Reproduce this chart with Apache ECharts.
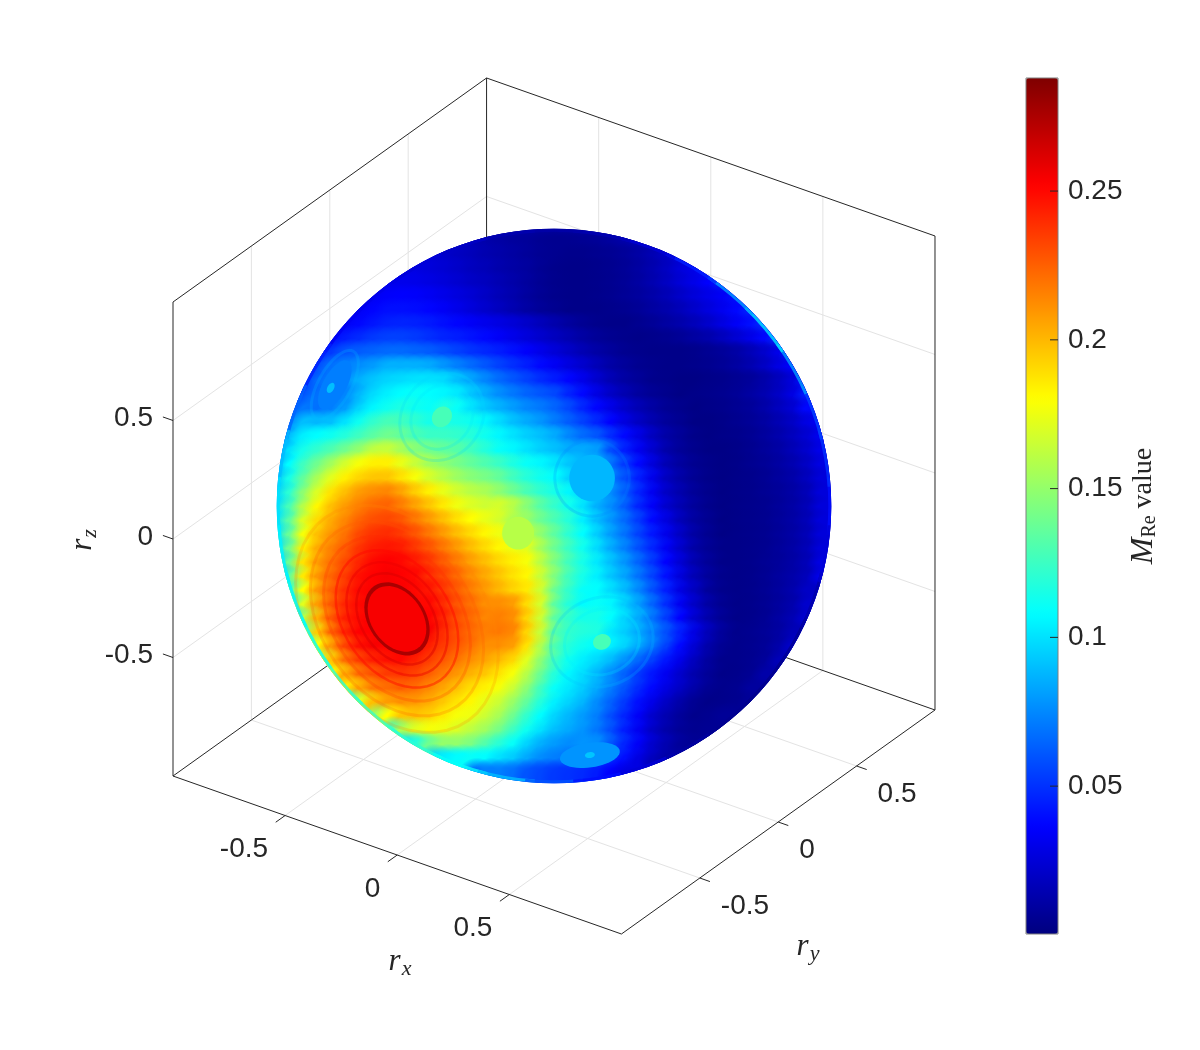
<!DOCTYPE html>
<html><head><meta charset="utf-8">
<style>html,body{margin:0;padding:0;background:#fff}#c{width:1200px;height:1050px}</style>
<script src="https://cdn.jsdelivr.net/npm/echarts@6/dist/echarts.min.js"></script>
</head><body><div id="c"></div>
<script>
// M_Re value (thousandths), one row per view-plane line, top to bottom, each row centred on the sphere.
const sphereRows = [
[22,18,15,13,12,11,11,12,14,16,20,26],
[26,22,19,16,13,11,9,8,6,5,5,6,7,9,12,16,22,30],
[30,27,24,22,19,17,14,12,10,8,6,5,4,4,5,6,8,11,15,20,28,36],
[30,30,28,26,24,21,18,16,13,11,9,6,4,3,3,4,5,7,10,14,19,26,30,40],
[30,31,31,30,28,26,23,20,18,15,12,9,6,4,3,3,4,5,7,10,14,19,25,30,36,44],
[28,30,33,35,36,35,33,30,27,24,20,16,13,9,6,4,3,3,4,5,7,9,12,16,21,26,30,34,40,44],
[30,34,37,40,40,39,37,34,30,26,22,18,14,10,7,5,3,3,3,4,5,7,10,13,17,22,27,32,38,46],
[30,34,38,42,45,46,45,43,40,37,34,31,28,25,21,17,13,9,6,4,3,3,5,7,10,13,17,22,28,34,40,48],
[32,38,44,48,52,54,54,52,49,46,44,41,38,34,30,26,22,18,14,10,7,5,4,3,4,5,7,10,13,18,24,30,38,48],
[30,42,52,60,62,64,66,66,64,62,58,54,50,47,44,40,35,30,25,20,15,11,8,5,4,3,3,3,4,6,8,11,16,22,30,44],
[40,58,68,72,76,80,86,86,86,84,78,72,66,60,54,49,44,38,33,27,22,16,11,8,5,4,3,3,4,5,7,10,14,20,28,36],
[36,52,66,72,76,86,92,96,98,100,100,98,90,82,74,66,60,54,48,43,37,30,22,15,10,7,4,3,2,2,3,4,6,8,12,18,26,42],
[46,60,68,70,74,88,98,104,108,110,108,106,102,92,84,76,70,64,60,56,46,38,28,20,14,9,6,4,2,3,4,5,7,10,14,20,28,44],
[56,70,68,72,80,96,106,112,116,112,110,116,110,100,92,86,80,74,70,64,56,46,37,29,21,15,10,6,4,2,3,4,6,8,12,18,24,38],
[48,74,90,88,90,100,112,122,128,126,120,114,116,114,112,106,98,90,84,78,70,62,54,46,36,27,19,13,8,5,2,2,3,5,7,10,15,20,28,34],
[60,90,104,108,112,118,126,134,140,136,128,124,124,122,118,112,106,100,94,90,84,74,66,60,48,38,28,18,11,7,3,2,3,4,6,9,13,18,24,32],
[72,100,114,122,130,140,150,162,164,155,146,140,136,132,126,118,110,106,100,94,90,84,84,80,58,44,32,22,12,7,4,2,2,3,5,8,11,16,22,30],
[82,108,126,140,154,168,178,184,184,174,164,154,148,142,136,130,124,116,110,106,100,92,86,84,68,52,38,26,15,9,5,3,2,3,5,7,10,14,20,28],
[88,114,136,156,172,184,192,196,196,188,178,168,160,152,146,142,136,126,118,112,108,96,86,84,72,58,44,30,18,11,6,3,2,3,4,6,9,12,18,26],
[94,120,148,170,188,198,208,212,214,206,194,184,174,166,160,156,148,138,128,120,114,106,96,84,76,62,46,32,20,13,7,4,2,3,4,6,8,11,16,26],
[98,128,160,182,198,208,216,222,224,216,206,196,186,176,170,166,168,160,146,132,122,112,100,86,76,62,46,34,22,14,8,4,2,3,4,5,8,11,16,26],
[100,134,170,190,204,214,224,230,232,228,218,208,198,188,180,174,168,156,150,138,128,118,104,90,78,66,52,38,27,16,9,5,2,3,4,5,8,11,16,26],
[100,138,178,198,210,220,232,238,240,236,228,218,208,198,190,182,176,164,160,148,134,120,108,94,80,68,54,42,30,19,10,5,2,3,4,5,8,11,16,26],
[98,140,184,204,216,226,238,244,246,244,236,228,218,208,198,190,182,176,172,154,138,124,112,98,84,72,58,46,33,21,11,6,3,3,4,5,8,11,16,26],
[94,140,188,208,220,232,242,250,252,250,244,236,226,216,206,198,190,184,178,160,142,126,114,102,90,78,64,50,36,24,13,7,3,3,4,6,8,11,16,28],
[88,136,186,210,224,236,248,252,254,252,250,240,232,222,212,204,196,188,182,164,144,126,114,104,92,82,68,54,40,26,15,8,4,3,4,6,9,12,17,30],
[126,180,210,226,240,250,253,254,253,250,246,236,226,216,208,200,192,186,166,138,122,110,108,98,88,74,58,44,28,18,8,4,3,4,6,9,13,20],
[114,172,208,228,242,250,253,254,254,250,250,240,228,220,212,212,208,190,168,134,118,108,110,106,94,80,64,48,32,20,10,5,3,4,6,9,13,22],
[100,160,202,228,244,250,254,254,254,252,252,242,230,222,214,216,212,192,166,134,122,114,114,108,96,84,68,52,36,22,12,6,3,4,6,10,15,24],
[150,194,224,242,252,252,254,254,250,254,240,230,222,216,218,214,192,164,132,122,118,116,102,94,84,72,58,44,28,16,8,4,5,7,10,16],
[140,180,210,234,248,254,252,252,256,244,236,228,220,212,212,208,188,158,130,118,112,108,104,96,84,70,54,38,24,12,6,4,5,7,12,22],
[164,196,222,236,244,248,250,244,236,228,220,212,206,200,192,172,148,126,112,104,98,90,78,66,54,42,30,18,9,4,4,5,8,16],
[178,204,222,230,236,238,234,226,218,210,202,196,188,178,160,138,118,106,98,88,76,64,52,42,32,22,13,7,3,4,6,12],
[184,204,218,222,226,222,214,206,198,190,184,178,166,148,126,110,102,94,84,72,60,48,38,28,20,12,6,4,5,9],
[130,172,198,208,212,210,204,196,188,182,174,166,152,136,118,104,96,88,76,64,52,40,30,20,12,6,3,4,5,8],
[152,180,196,198,194,186,178,176,166,156,140,122,108,96,88,80,72,58,46,34,22,14,8,4,5,7],
[120,156,172,178,176,170,162,154,142,126,112,100,90,84,78,70,58,44,32,20,12,7,5,6],
[100,118,140,150,150,144,132,120,110,96,86,80,76,78,76,60,46,34,22,14,8,6],
[96,104,108,110,108,100,94,84,76,72,70,66,60,52,40,28,18,11],
[68,72,72,68,60,56,52,50,48,44,36,28]
];
// M_Re along the limb, read every 10 degrees counter-clockwise from the right-hand side
const rimValues = [40,50,55,80,100,80,45,25,15,12,14,20,25,30,32,45,65,90,100,105,105,110,120,125,120,110,90,60,40,25,10,5,4,6,12,25];
// terraces and local plateaus: centre, major semi-axis, minor/major ratio, tilt, value, 0 filled / 1 ring / 2 faint ring
const contourU     = [-.573,-.573,-.573,-.573,-.573,-.573,-.573,-.573, -.409,-.409,-.409, -.8,-.8,-.815, .139,.139, -.131, .175,.175,.175, .131,.131];
const contourV     = [-.412,-.412,-.412,-.412,-.412,-.412,-.412,-.412, .325,.325,.325, .442,.442,.431, .102,.102, -.099, -.496,-.496,-.496, -.909,-.909];
const contourMajor = [.453,.387,.328,.274,.226,.182,.146,.131, .168,.124,.04, .14,.1,.02, .139,.085, .06, .19,.139,.033, .11,.018];
const contourRatio = [.71,.71,.71,.71,.71,.71,.71,.71, .86,.86,.86, .43,.43,.6, .98,.98, .97, .85,.85,.85, .41,.6];
const contourTilt  = [35,35,35,35,35,35,35,35, -38,-38,-38, -29,-29,-29, 0,0, 0, -71,-71,-71, -82,-82];
const contourValue = [215,228,240,250,258,264,276,254, 96,100,128, 90,72,90, 74,88, 160, 90,104,128, 78,92];
const contourKind  = [2,2,2,1,1,1,0,0, 2,2,0, 2,0,0, 2,0, 0, 2,2,0, 0,0];

const axisTickValues = [-0.5, 0, 0.5];
const colorbarTicks = [0.05, 0.1, 0.15, 0.2, 0.25];
const colorbarRange = [0.0003, 0.288];
const jetColors = ['#00007f','#0000ff','#007fff','#00ffff','#7fff7f','#ffff00','#ff7f00','#ff0000','#7f0000'];

// orthographic view of the axes box
const viewU = [0.8183, 0.5722, 0];
const viewV = [-0.2883, 0.4088, 0.865];
const project = (x,y,z) => [viewU[0]*x+viewU[1]*y+viewU[2]*z, viewV[0]*x+viewV[1]*y+viewV[2]*z];
const CELL = 0.051, RADIUS = 1.012;

const sphereData = [];
sphereRows.forEach((row,i)=>{
  row.forEach((v,j)=>{
    const u = (j - (row.length-1)/2)*CELL;
    const w = ((sphereRows.length-1)/2 - i)*CELL;
    sphereData.push([u,w,v/1000]);
  });
});
const rimData = rimValues.map((v,i)=>[RADIUS*Math.cos(i*Math.PI/18),RADIUS*Math.sin(i*Math.PI/18),v/1000,i*10]);
const contourData = contourU.map((u,i)=>[u,contourV[i],contourValue[i]/1000,contourMajor[i],contourRatio[i],contourTilt[i],contourKind[i]]);

function segs(list){ const out=[]; list.forEach(p=>{ p.forEach(q=>out.push(project(...q))); out.push([null,null]); }); return out; }
const gridSegs=[], boxSegs=[];
axisTickValues.forEach(t=>{
  gridSegs.push([[t,-1,-1],[t,1,-1],[t,1,1]]);
  gridSegs.push([[1,t,-1],[-1,t,-1],[-1,t,1]]);
  gridSegs.push([[-1,-1,t],[-1,1,t],[1,1,t]]);
  boxSegs.push([[t,-1,-1],[t,-1.06,-1]]);
  boxSegs.push([[1,t,-1],[1.045,t,-1]]);
  boxSegs.push([[-1,-1,t],[-1.045,-1,t]]);
});
boxSegs.push([[-1,-1,-1],[-1,-1,1],[-1,1,1],[1,1,1],[1,1,-1],[1,-1,-1],[-1,-1,-1],[-1,1,-1],[1,1,-1]]);
boxSegs.push([[-1,1,-1],[-1,1,1]]);

const tickFont = {fontFamily:'"Liberation Sans",Arial,sans-serif',fontSize:28,color:'#262626'};
function tickLabels(pts,align,offset){
  return {type:'scatter',xAxisIndex:0,yAxisIndex:0,symbolSize:0,silent:true,z:6,itemStyle:{opacity:1},
    data:axisTickValues.map(t=>({value:pts(t),name:String(t)})),
    label:{show:true,opacity:1,position:'inside',align,verticalAlign:'middle',offset,formatter:'{b}',...tickFont}};
}
const serif='"Liberation Serif",serif';
const mathRich = {
  i:{fontFamily:serif,fontStyle:'italic',fontSize:31,color:'#262626'},
  s:{fontFamily:serif,fontStyle:'italic',fontSize:22,color:'#262626',padding:[14,0,0,1]},
  m:{fontFamily:serif,fontStyle:'italic',fontSize:32,color:'#262626'},
  r:{fontFamily:serif,fontSize:20,color:'#262626',padding:[12,0,0,0]},
  n:{fontFamily:serif,fontSize:28,color:'#262626'}
};
function axisName(p,text,rotate){
  return {type:'scatter',xAxisIndex:0,yAxisIndex:0,symbolSize:0,silent:true,z:6,itemStyle:{opacity:1},data:[{value:p}],
    label:{show:true,opacity:1,position:'inside',align:'center',verticalAlign:'middle',rotate:rotate||0,formatter:text,rich:mathRich}};
}
function discClip(api){
  const c=api.coord([0,0]);
  return {type:'circle',shape:{cx:c[0],cy:c[1],r:api.size([RADIUS,0])[0]}};
}

const option = {
  animation:false,backgroundColor:'#fff',
  grid:[
    {left:6,top:12.8,width:1164.5,height:986.4,show:false},
    {left:1026,top:78,width:32,height:856,show:true,backgroundColor:'transparent',borderColor:'#7f7f7f',borderWidth:1,z:10}
  ],
  xAxis:[
    {type:'value',gridIndex:0,min:-2,max:2.25,show:false},
    {type:'value',gridIndex:1,min:0,max:1,show:false}
  ],
  yAxis:[
    {type:'value',gridIndex:0,min:-1.8,max:1.8,show:false},
    {type:'value',gridIndex:1,min:colorbarRange[0],max:colorbarRange[1],position:'right',z:11,
      axisLine:{show:false},splitLine:{show:false},axisTick:{show:false},
      axisLabel:{show:true,margin:10,customValues:colorbarTicks,formatter:v=>String(v),...tickFont}}
  ],
  visualMap:{type:'continuous',seriesIndex:[5,6,7],dimension:2,min:colorbarRange[0],max:colorbarRange[1],
    left:1026,top:78,itemWidth:32,itemHeight:856,padding:0,calculable:false,realtime:false,text:null,
    hoverLink:false,inRange:{color:jetColors}},
  series:[
    {type:'line',xAxisIndex:0,yAxisIndex:0,symbol:'none',silent:true,z:1,connectNulls:false,
      lineStyle:{color:'#e3e3e3',width:1},data:segs(gridSegs)},
    {type:'line',xAxisIndex:0,yAxisIndex:0,symbol:'none',silent:true,z:2,connectNulls:false,
      lineStyle:{color:'#262626',width:1},data:segs(boxSegs)},
    tickLabels(t=>project(t,-1,-1),'right',[-17,34]),
    tickLabels(t=>project(1,t,-1),'left',[21,28]),
    tickLabels(t=>project(-1,-1,t),'right',[-20,-2]),
    {type:'custom',xAxisIndex:0,yAxisIndex:0,silent:true,z:3,data:sphereData,clip:false,
      encode:{x:0,y:1},
      renderItem(params,api){
        const p=api.coord([api.value(0),api.value(1)]);
        const r=api.size([CELL,0])[0]*1.5;
        const col=api.visual('color');
        return {type:'circle',shape:{cx:p[0],cy:p[1],r},
          style:{fill:{type:'radial',x:.5,y:.5,r:.5,colorStops:[
            {offset:0,color:col},{offset:.5,color:col},{offset:1,color:echarts.color.modifyAlpha(col,0)}]}},
          clipPath:discClip(api)};
      }},
    {type:'custom',xAxisIndex:0,yAxisIndex:0,silent:true,z:3.5,data:contourData,clip:false,
      encode:{x:0,y:1},
      renderItem(params,api){
        const U=api.value(0),V=api.value(1),a=api.value(3),b=a*api.value(4),tau=api.value(5)*Math.PI/180,kind=api.value(6);
        const pts=[];
        for(let k=0;k<48;k++){
          const t=k/48*2*Math.PI, A=a*Math.cos(t), B=b*Math.sin(t);
          pts.push(api.coord([U-Math.sin(tau)*A+Math.cos(tau)*B, V+Math.cos(tau)*A+Math.sin(tau)*B]));
        }
        const col=api.visual('color');
        const style=kind===0?{fill:col}:{fill:'none',stroke:col,lineWidth:kind===1?2.5:3,opacity:kind===1?.45:.22};
        return {type:'polygon',shape:{points:pts},style,clipPath:discClip(api)};
      }},
    {type:'custom',xAxisIndex:0,yAxisIndex:0,silent:true,z:3.6,data:rimData,clip:false,
      encode:{x:0,y:1},
      renderItem(params,api){
        const c=api.coord([0,0]);
        const R=api.size([RADIUS,0])[0];
        const th=api.value(3)*Math.PI/180, h=6*Math.PI/180;
        return {type:'arc',shape:{cx:c[0],cy:c[1],r:R-1.5,startAngle:-th-h,endAngle:-th+h,clockwise:true},
          style:{fill:'none',stroke:api.visual('color'),lineWidth:3,opacity:.8},clipPath:discClip(api)};
      }},
    axisName([-0.562,-1.664],'{i|r}{s|x}'),
    axisName([0.927,-1.609],'{i|r}{s|y}'),
    axisName([-1.719,-0.124],'{i|r}{s|z}',90),
    axisName([2.153,0.0],'{m|M}{r|Re}{n| value}',90),
    {type:'line',xAxisIndex:1,yAxisIndex:1,symbol:'none',silent:true,z:20,connectNulls:false,
      lineStyle:{color:'#262626',width:1},
      data:colorbarTicks.flatMap(t=>[[1,t],[0.75,t],[null,null]])}
  ]
};
const chart=echarts.init(document.getElementById('c'),null,{renderer:'canvas'});
chart.setOption(option);
</script></body></html>
